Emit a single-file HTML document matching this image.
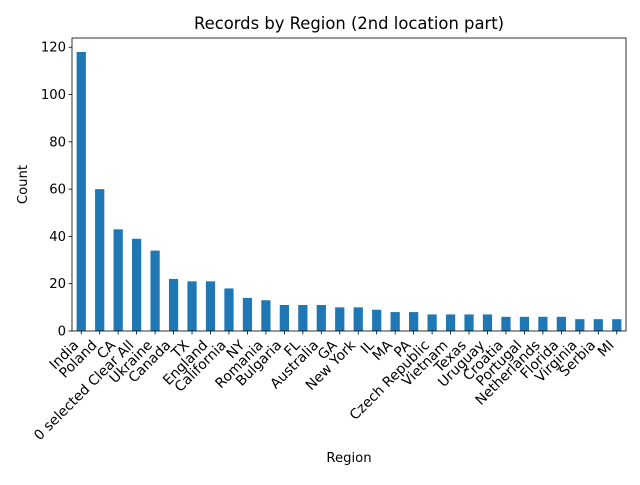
<!DOCTYPE html>
<html><head><meta charset="utf-8"><style>body{margin:0;background:#fff}svg{font-family:"DejaVu Sans","Liberation Sans",sans-serif}</style></head>
<body>
<svg id="c" width="640" height="480" xmlns="http://www.w3.org/2000/svg"></svg>
<script>
const categories=["India","Poland","CA","0 selected Clear All","Ukraine","Canada","TX","England","California","NY","Romania","Bulgaria","FL","Australia","GA","New York","IL","MA","PA","Czech Republic","Vietnam","Texas","Uruguay","Croatia","Portugal","Netherlands","Florida","Virginia","Serbia","MI"];
const counts=[118,60,43,39,34,22,21,21,18,14,13,11,11,11,10,10,9,8,8,7,7,7,7,6,6,6,6,5,5,5];
const yTicks=[0,20,40,60,80,100,120];
const NS="http://www.w3.org/2000/svg";
const svg=document.getElementById('c');
const L=72,R=626,T=38,B=331;
const yMax=Math.max(...counts)*1.05;
const step=(R-L)/categories.length;
const x=i=>L+step*(i+0.5);
const y=v=>B-(v/yMax)*(B-T);
function mk(tag,attrs,text){const e=document.createElementNS(NS,tag);for(const k in attrs)e.setAttribute(k,attrs[k]);if(text!==undefined)e.textContent=text;svg.appendChild(e);return e;}
counts.forEach((v,i)=>{
  const r=mk('rect',{x:x(i)-step*0.25,y:y(v),width:step*0.5,height:B-y(v),fill:'#1f77b4'});
  
  
  const t=mk('line',{x1:x(i),x2:x(i),y1:B,y2:B+3.5,stroke:'#000','stroke-width':0.8});
  
  
  const tx=x(i)-2,ty=B+15;
  const lb=mk('text',{x:tx,y:ty,'font-size':13.9,'text-anchor':'end',transform:`rotate(-45 ${tx} ${ty})`},categories[i]);
  
  
});
yTicks.forEach(v=>{
  const t=mk('line',{x1:L-3.5,x2:L,y1:y(v),y2:y(v),stroke:'#000','stroke-width':0.8});
  
  
  const lb=mk('text',{x:L-6,y:y(v)+4.5,'font-size':13.2,'text-anchor':'end'},String(v));
  
  
});
const f=mk('rect',{x:L,y:T,width:R-L,height:B-T,fill:'none',stroke:'#000','stroke-width':0.8});


const ti=mk('text',{x:(L+R)/2,y:29,'font-size':16.4,'text-anchor':'middle'},'Records by Region (2nd location part)');


const xt=mk('text',{x:(L+R)/2,y:462,'font-size':13.2,'text-anchor':'middle'},'Region');


const yt=mk('text',{x:27,y:(T+B)/2,'font-size':13.2,'text-anchor':'middle',transform:`rotate(-90 27 ${(T+B)/2})`},'Count');


</script>
</body></html>
